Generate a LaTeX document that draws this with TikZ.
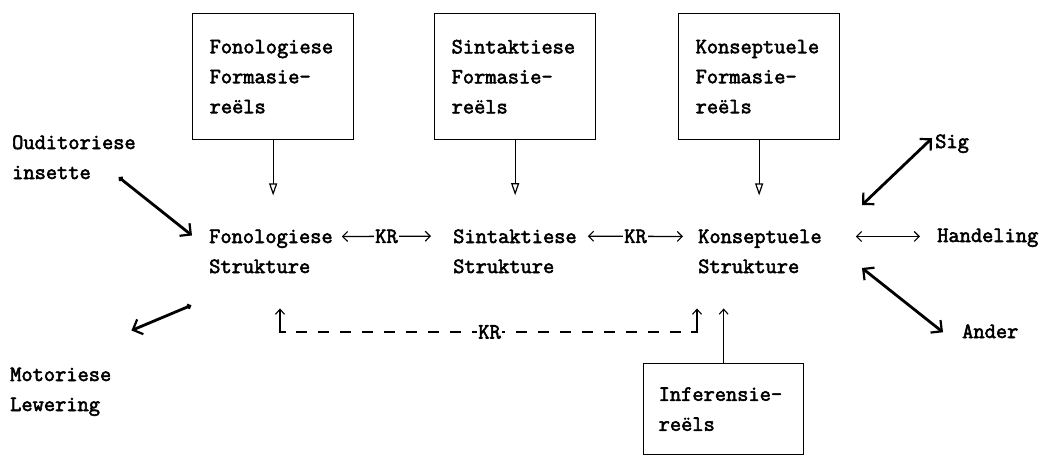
\documentclass[tikz,border=0pt]{standalone}
\usepackage{fontspec}
\newfontfamily\twfont{Latin Modern Mono}[FakeBold=2.6]
\usetikzlibrary{arrows.meta,calc}
\begin{document}
\begin{tikzpicture}[x=1pt,y=-1pt,
  every node/.style={font=\twfont\fontsize{21.8}{30}\selectfont, inner sep=0pt},
  txt/.style={anchor=base west, align=left},
  rulebox/.style={draw, line width=1.3pt, anchor=north west, align=left, inner ysep=0pt},
  dn/.style={line width=1.2pt, shorten >=34pt, -{Triangle[open,length=12pt,width=8pt,line width=1.2pt]}},
  upa/.style={line width=1.2pt, shorten >=35pt, -{Straight Barb[length=5pt,width=9pt,line width=1.1pt]}},
  chev/.style={line width=1.3pt, {Straight Barb[length=5pt,width=10pt,line width=1.1pt]}-{Straight Barb[length=5pt,width=10pt,line width=1.1pt]}},
  boldarr/.style={line width=2.8pt, {Circle[length=5pt]}-{Straight Barb[length=8pt,width=16pt,line width=2.2pt]}},
  bidir/.style={line width=2.8pt, {Straight Barb[length=8pt,width=16pt,line width=2.2pt]}-{Straight Barb[length=8pt,width=16pt,line width=2.2pt]}},
  krlab/.style={fill=white, inner xsep=1pt, inner ysep=1pt}
]
\useasboundingbox (0,0) rectangle (1043,457);

% rule boxes
\node[rulebox, text width=127pt, inner xsep=17pt, minimum height=126pt] (fb) at (192,13) {Fonologiese\\Formasie-\\reëls};
\node[rulebox, text width=127pt, inner xsep=17pt, minimum height=126pt] (sb) at (434,13) {Sintaktiese\\Formasie-\\reëls};
\node[rulebox, text width=127pt, inner xsep=17pt, minimum height=126pt] (kb) at (678,13) {Konseptuele\\Formasie-\\reëls};
\node[rulebox, text width=130pt, inner xsep=15pt, minimum height=91pt] (ib) at (643,363) {Inferensie-\\reëls};

% texts (base = baseline of last line)
\node[txt] (od) at (12,179) {Ouditoriese\\insette};
\node[txt] (fs) at (209,273) {Fonologiese\\Strukture};
\node[txt] (ss) at (453,273) {Sintaktiese\\Strukture};
\node[txt] (ks) at (698,273) {Konseptuele\\Strukture};
\node[txt] (sg) at (935,148) {Sig};
\node[txt] (hd) at (937,242) {Handeling};
\node[txt] (ad) at (962,338) {Ander};
\node[txt] (md) at (10,411) {Motoriese\\Lewering};

% down arrows from rule boxes
\draw[dn] (fb.south) -- (fb.south |- fs.north);
\draw[dn] (sb.south) -- (sb.south |- ss.north);
\draw[dn] (kb.south) -- (kb.south |- ks.north);

% KR correspondences
\draw[chev] ([shift={(9,7)}]fs.north east) -- node[krlab]{KR} ([shift={(-22,7)}]ss.north west);
\draw[chev] ([shift={(11,7)}]ss.north east) -- node[krlab]{KR} ([shift={(-15,7)}]ks.north west);
\draw[chev] ([shift={(34,7)}]ks.north east) -- ($(ks.north east -| hd.west)+(-17,7)$);

% Sig / Ander
\coordinate (sgs) at (862,205);
\coordinate (ads) at (862,268);
\draw[bidir] (sgs) -- ([shift={(-3,4)}]sg.north west);
\draw[bidir] (ads) -- ([shift={(-19,1)}]ad.west);

% input / output
\draw[boldarr] ([shift={(-17,-2)}]od.south east) -- ([shift={(-17,6)}]fs.north west);
\draw[boldarr] ([shift={(-18,32)}]fs.south west) -- ([shift={(20,-37)}]md.north east);

% dashed KR between phonological and conceptual
\coordinate (kl) at (280,332);
\coordinate (kr) at (697,332);
\draw[upa] ([shift={(6,0)}]kl) -- (kl) -- (kl |- fs.south);
\draw[upa] ([shift={(-6,0)}]kr) -- (kr) -- (kr |- ks.south);
\draw[line width=1.2pt, dash pattern=on 11pt off 11pt] ([shift={(16,0)}]kl) -- node[krlab]{KR} ([shift={(-14,0)}]kr);

% inference
\draw[upa] (ib.north) -- (ib.north |- ks.south);
\end{tikzpicture}
\end{document}
